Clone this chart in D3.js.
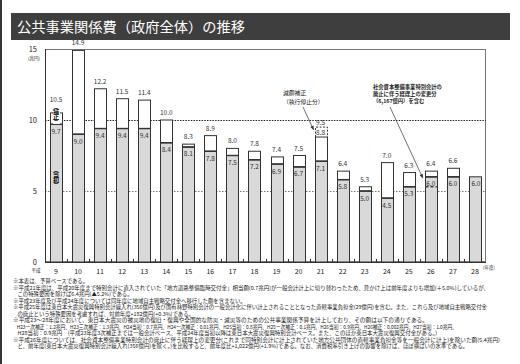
<!DOCTYPE html>
<html><head><meta charset="utf-8">
<script src="https://cdn.jsdelivr.net/npm/d3@7"></script>
<style>
body{margin:0;background:#fff}
svg{display:block}
text{font-family:"Noto Sans CJK JP","Noto Sans",sans-serif}
.vl{writing-mode:vertical-rl;text-orientation:mixed;font-family:"Noto Sans CJK JP",sans-serif;font-size:6px;font-weight:bold;
    line-height:7px;letter-spacing:-1px;color:#111;margin:0 auto;}
</style>
</head><body><svg id="c" width="520" height="364"></svg>
<script>
const title = "公共事業関係費（政府全体）の推移";
const categories = ["9","10","11","12","13","14","15","16","17","18","19","20","21","22","23","24","25","26","27","28"];
const totals   = [10.5,14.9,12.2,11.5,11.4,10.0,8.3,8.9,8.0,7.8,7.4,7.5,8.8,6.4,5.3,7.0,6.3,6.4,6.6,null];
const initials = [9.7,9.0,9.4,9.4,9.4,8.4,8.1,7.8,7.5,7.2,6.9,6.7,7.1,5.8,5.0,4.5,5.3,6.0,6.0,6.0];
const yTicks = [0,5,10,15];
const cutCategory = "21", cutValue = 9.5;
const changeCategory = "26", changeValue = 5.3;
const supplementLabel = "（補正）";
const initialLabel = "（当初）";
const cutNote = ["減額補正","（執行停止分）"];
const changeNote = ["社会資本整備事業特別会計の","廃止に伴う経理上の変更分","（6,167億円）を含む"];
const notes = [
 "※本表は、予算ベースである。",
 "※平成21年度は、平成20年度まで特別会計に直入されていた「地方道路整備臨時交付金」相当額(0.7兆円)が一般会計計上に切り替わったため、見かけ上は前年度よりも増加(＋5.0%)しているが、",
 "　この特殊要因を除けば6.4兆円(▲5.2%)である。",
 "※平成23年度及び平成24年度については同年度に地域自主戦略交付金へ移行した額を含まない。",
 "※平成25年度は東日本大震災復興特別会計繰入れ(356億円)及び国有林野特別会計の一般会計化に伴い計上されることとなった直轄事業負担金(29億円)を含む。また、これら及び地域自主戦略交付金",
 "　の廃止という特殊要因を考慮すれば、対前年度+182億円(+0.3%)である。",
 "※平成23～28年度において、東日本大震災の被災地の復旧・復興や全国的な防災・減災等のための公共事業関係予算を計上しており、その額は以下の通りである。",
 "　H23一次補正：1.2兆円、H23三次補正：1.3兆円、H24当初：0.7兆円、H24一次補正：0.01兆円、H25当初：0.8兆円、H25一次補正：0.1兆円、H26当初：0.9兆円、H26補正：0.002兆円、H27当初：1.0兆円、",
 "　H28当初：0.9兆円　(平成23年度3次補正までは一般会計ベース、平成24年度当初以降は東日本大震災復興特別会計ベース。また、このほか東日本大震災復興交付金がある。)",
 "※平成26年度については、社会資本整備事業特別会計の廃止に伴う経理上の変更分(これまで同特別会計に計上されていた地方公共団体の直轄事業負担金等を一般会計に計上)を除いた額(5.4兆円)",
 "　と、前年度(東日本大震災復興特別会計繰入れ(356億円)を除く。)を比較すると、前年度比+1,022億円(+1.9%)である。なお、消費税率引き上げの影響を除けば、ほぼ横ばいの水準である。"
];
const noteEnds = [null,489,null,null,487,null,428,457,437,500,468];

const svg = d3.select("#c");
svg.append("rect").attr("width",520).attr("height",364).attr("fill","#fff");
svg.append("rect").attr("x",0).attr("y",0).attr("width",2).attr("height",364).attr("fill","#333");

// title
svg.append("rect").attr("x",11).attr("y",13).attr("width",499).attr("height",27).attr("fill","#3e3e3e");
svg.append("text").attr("x",17).attr("y",32).attr("fill","#fff").attr("font-size",14)
  .attr("textLength",228).attr("lengthAdjust","spacingAndGlyphs").text(title);

const x = d3.scaleBand().domain(categories).range([45,486]).paddingInner(0.456).paddingOuter(0.228);
const y = d3.scaleLinear().domain([0,15]).range([262,49]);
const bw = x.bandwidth();
const cx = c => x(c) + bw/2;

// frame
svg.append("rect").attr("x",45.5).attr("y",49.5).attr("width",440).attr("height",212)
  .attr("fill","none").attr("stroke","#777").attr("stroke-width",1);

// grid lines
svg.append("line").attr("x1",45).attr("x2",486).attr("y1",Math.round(y(10))+0.5).attr("y2",Math.round(y(10))+0.5)
  .attr("stroke","#222").attr("stroke-dasharray","1.5,1.2");
svg.append("line").attr("x1",45).attr("x2",486).attr("y1",Math.round(y(5))+0.5).attr("y2",Math.round(y(5))+0.5)
  .attr("stroke","#777").attr("stroke-dasharray","1.5,1.5");

// axes lines
svg.append("line").attr("x1",45.5).attr("x2",45.5).attr("y1",49).attr("y2",262).attr("stroke","#333");
svg.append("line").attr("x1",45).attr("x2",486).attr("y1",262.5).attr("y2",262.5).attr("stroke","#333");

// bottom ticks between bars
const step = x.step();
d3.range(1,categories.length).forEach(i=>{
  const tx = Math.round(45 + i*step)+0.5;
  svg.append("line").attr("x1",tx).attr("x2",tx).attr("y1",262).attr("y2",259).attr("stroke","#333");
});

// y tick labels
svg.selectAll(".yt").data(yTicks).enter().append("text")
  .attr("x",37).attr("y",d=>y(d)+2.5).attr("text-anchor","end").attr("font-size",7.5).attr("fill","#222")
  .text(d=>d);
svg.append("text").attr("x",34).attr("y",60).attr("text-anchor","middle").attr("font-size",4.5).attr("fill","#222").text("(兆円)");
svg.append("text").attr("x",36).attr("y",272).attr("text-anchor","middle").attr("font-size",4.5).attr("fill","#222").text("平成");
svg.append("text").attr("x",483).attr("y",268.5).attr("font-size",4.5).attr("fill","#222").text("(年度)");

// x labels
svg.selectAll(".xl").data(categories).enter().append("text")
  .attr("x",d=>cx(d)).attr("y",274).attr("text-anchor","middle").attr("font-size",7).attr("fill","#222").text(d=>d);

// bars
categories.forEach((c,i)=>{
  const ini = initials[i], tot = totals[i];
  const bx = Math.round(x(c))+0.5;
  svg.append("rect").attr("x",bx).attr("y",y(ini)).attr("width",Math.round(bw)).attr("height",y(0)-y(ini))
    .attr("fill","#d9d9d9").attr("stroke","#333").attr("stroke-width",1);
  if (tot !== null && tot > ini) {
    svg.append("rect").attr("x",bx).attr("y",y(tot)).attr("width",Math.round(bw)).attr("height",y(ini)-y(tot))
      .attr("fill","#fff").attr("stroke","#333").attr("stroke-width",1);
    svg.append("line").attr("x1",bx).attr("x2",bx+Math.round(bw)).attr("y1",y(ini)).attr("y2",y(ini))
      .attr("stroke","#333").attr("stroke-width",1.4);
  }
  if (tot !== null) {
    const off = (c===cutCategory) ? 1.8 : (i===0 ? 10.5 : 5);
    svg.append("text").attr("x",cx(c)).attr("y",y(tot)-off).attr("text-anchor","middle")
      .attr("font-size",6.5).attr("fill","#333").text(tot.toFixed(1));
  }
  svg.append("text").attr("x",cx(c)+(c==="28"?1:0)).attr("y",y(ini)+9.5).attr("text-anchor","middle")
    .attr("font-size",6.5).attr("fill","#333").text(ini.toFixed(1));
});

// dashed cut box for 21
{
  const c = cutCategory, i = categories.indexOf(c);
  const bx = Math.round(x(c))+0.5, w = Math.round(bw);
  const path = d3.path();
  path.moveTo(bx, y(totals[i])); path.lineTo(bx, y(cutValue)); path.lineTo(bx+w, y(cutValue)); path.lineTo(bx+w, y(totals[i]));
  svg.append("path").attr("d",path.toString()).attr("fill","none").attr("stroke","#333").attr("stroke-dasharray","2,1.5");
  svg.append("text").attr("x",cx(c)).attr("y",y(cutValue)-2.6).attr("text-anchor","middle")
    .attr("font-size",6.5).attr("fill","#333").text(cutValue.toFixed(1));
}
// dashed change line for 26
{
  const c = changeCategory;
  const bx = Math.round(x(c))+0.5, w = Math.round(bw);
  svg.append("line").attr("x1",bx).attr("x2",bx+w).attr("y1",y(changeValue)).attr("y2",y(changeValue))
    .attr("stroke","#444").attr("stroke-width",1.4).attr("stroke-dasharray","3,2");
}

// vertical labels in bar 9 (HTML vertical writing)
function vlabel(txt, xc, yTop, h, bg){
  const fo = svg.append("foreignObject").attr("x",xc-5).attr("y",yTop).attr("width",10).attr("height",h);
  fo.append("xhtml:div").attr("class","vl")
    .style("background", bg ? "#fff" : "transparent")
    .style("height", h+"px").style("text-align","center").text(txt);
}
const c0 = categories[0];
vlabel(supplementLabel, cx(c0), 104, 20, true);
vlabel(initialLabel, cx(c0), y(6.7), 20, false);

// annotations
function arrow(x1,y1,x2,y2){
  svg.append("line").attr("x1",x1).attr("y1",y1).attr("x2",x2).attr("y2",y2).attr("stroke","#333").attr("stroke-width",0.7);
  const a = Math.atan2(y2-y1,x2-x1), L=4, W=1.8;
  const p = [[x2,y2],[x2-L*Math.cos(a)+W*Math.sin(a), y2-L*Math.sin(a)-W*Math.cos(a)],[x2-L*Math.cos(a)-W*Math.sin(a), y2-L*Math.sin(a)+W*Math.cos(a)]];
  svg.append("polygon").attr("points",p.map(d=>d.join(",")).join(" ")).attr("fill","#333");
}
cutNote.forEach((t,k)=>{
  svg.append("text").attr("x",283).attr("y",95+k*9).attr("font-size",5.8).attr("fill","#222").text(t);
});
arrow(303,107, cx(cutCategory)-7, y(9.3));
changeNote.forEach((t,k)=>{
  svg.append("text").attr("x",373).attr("y",89+k*7).attr("font-size",5.3).attr("font-weight","bold").attr("fill","#222").text(t);
});
arrow(390,107, cx(changeCategory)-8, y(5.9));

// footnotes
notes.forEach((t,k)=>{
  const tx = t.startsWith("　") ? 12 : 13;
  const el = svg.append("text").attr("x",tx).attr("y",283+k*6.5).attr("font-size",5.4).attr("fill","#222").text(t);
  if (noteEnds[k]) el.attr("textLength",noteEnds[k]-tx).attr("lengthAdjust","spacingAndGlyphs");
});
</script>
</body></html>
